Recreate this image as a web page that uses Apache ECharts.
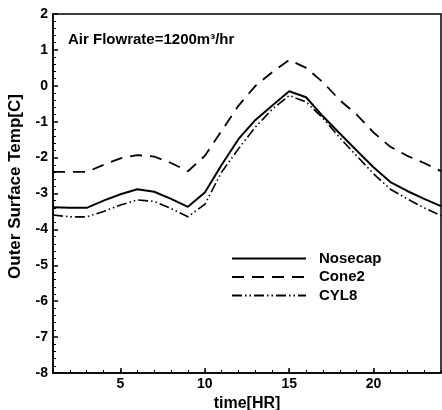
<!DOCTYPE html>
<html><head><meta charset="utf-8">
<script src="https://cdn.jsdelivr.net/npm/echarts@6/dist/echarts.min.js"></script>
<style>html,body{margin:0;padding:0;background:#fff}#c{width:442px;height:410px}</style>
</head><body><div id="c"></div>
<script>
const hours = [1,2,3,4,5,6,7,8,9,10,11,12,13,14,15,16,17,18,19,20,21,22,23,24];
const nosecap = [-3.38,-3.40,-3.40,-3.20,-3.02,-2.88,-2.95,-3.15,-3.37,-2.97,-2.20,-1.48,-0.95,-0.55,-0.15,-0.32,-0.85,-1.33,-1.80,-2.27,-2.68,-2.93,-3.15,-3.35];
const cone2 = [-2.40,-2.40,-2.40,-2.20,-2.02,-1.93,-1.97,-2.15,-2.38,-1.95,-1.25,-0.55,0.00,0.38,0.72,0.50,0.10,-0.40,-0.80,-1.30,-1.70,-1.95,-2.15,-2.38];
const cyl8 = [-3.60,-3.65,-3.65,-3.50,-3.32,-3.18,-3.22,-3.42,-3.65,-3.30,-2.40,-1.75,-1.15,-0.65,-0.27,-0.45,-0.90,-1.45,-1.95,-2.45,-2.88,-3.15,-3.40,-3.62];
const xMajorTicks = [5,10,15,20];
const seriesNames = ['Nosecap','Cone2','CYL8'];
const annotation = 'Air Flowrate=1200m³/hr';

const pairs = v => hours.map((h,i)=>[h,v[i]]);
const FONT = '"Liberation Sans", Arial, sans-serif';
const chart = echarts.init(document.getElementById('c'), null, {renderer:'canvas'});
const gridPos = {left:53, right:1, top:14, bottom:37, containLabel:false, outerBoundsMode:'none'};
chart.setOption({
  animation:false,
  backgroundColor:'#fff',
  textStyle:{fontFamily:FONT},
  grid:[Object.assign({show:true, borderColor:'#000', borderWidth:1.5, backgroundColor:'transparent'}, gridPos),
        Object.assign({show:false}, gridPos)],
  xAxis:[{
    type:'value', gridIndex:0, min:1, max:24,
    name:'time[HR]', nameLocation:'middle', nameGap:14,
    nameTextStyle:{color:'#000', fontWeight:'bold', fontSize:16, fontFamily:FONT},
    axisLine:{show:true, onZero:false, lineStyle:{color:'#000', width:1.5}},
    axisTick:{show:true, inside:true, length:5, customValues:xMajorTicks, lineStyle:{color:'#000', width:1.5}},
    axisLabel:{show:true, customValues:xMajorTicks, margin:4, color:'#000', fontWeight:'bold', fontSize:14, fontFamily:FONT},
    splitLine:{show:false}
  },{
    type:'value', gridIndex:1, min:1, max:24, interval:1,
    axisLine:{show:false, onZero:false},
    axisTick:{show:true, inside:true, length:3, lineStyle:{color:'#000', width:1}},
    axisLabel:{show:false}, splitLine:{show:false}
  }],
  yAxis:[{
    type:'value', gridIndex:0, min:-8, max:2, interval:1,
    name:'Outer Surface Temp[C]', nameLocation:'middle', nameGap:29,
    nameTextStyle:{color:'#000', fontWeight:'bold', fontSize:17, fontFamily:FONT, padding:[0,0,0,14]},
    axisLine:{show:true, onZero:false, lineStyle:{color:'#000', width:1.5}},
    axisTick:{show:true, inside:true, length:5, lineStyle:{color:'#000', width:1.5}},
    minorTick:{show:true, splitNumber:5, length:3, lineStyle:{color:'#000', width:1}},
    axisLabel:{margin:5, color:'#000', fontWeight:'bold', fontSize:14, fontFamily:FONT},
    splitLine:{show:false}
  },{
    type:'value', gridIndex:1, min:-8, max:2, show:false
  }],
  legend:{
    orient:'vertical', left:226, top:246, itemWidth:74, itemHeight:14, itemGap:3.5,
    data:seriesNames,
    itemStyle:{opacity:0},
    textStyle:{color:'#000', fontWeight:'bold', fontSize:15, fontFamily:FONT, padding:[0,0,0,8]}
  },
  graphic:[{
    type:'text', left:68, top:32,
    style:{text:annotation, fill:'#000', font:'bold 15px '+FONT}
  }],
  series:[
    {name:seriesNames[0], type:'line', data:pairs(nosecap), symbol:'none', showSymbol:false,
     lineStyle:{color:'#000', width:2, type:'solid'}, itemStyle:{color:'#000'}},
    {name:seriesNames[1], type:'line', data:pairs(cone2), symbol:'none', showSymbol:false,
     lineStyle:{color:'#000', width:1.8, type:[12,8]}, itemStyle:{color:'#000'}},
    {name:seriesNames[2], type:'line', data:pairs(cyl8), symbol:'none', showSymbol:false,
     lineStyle:{color:'#000', width:1.6, type:[10,3,1.5,3,1.5,3]}, itemStyle:{color:'#000'}}
  ]
});
</script></body></html>
